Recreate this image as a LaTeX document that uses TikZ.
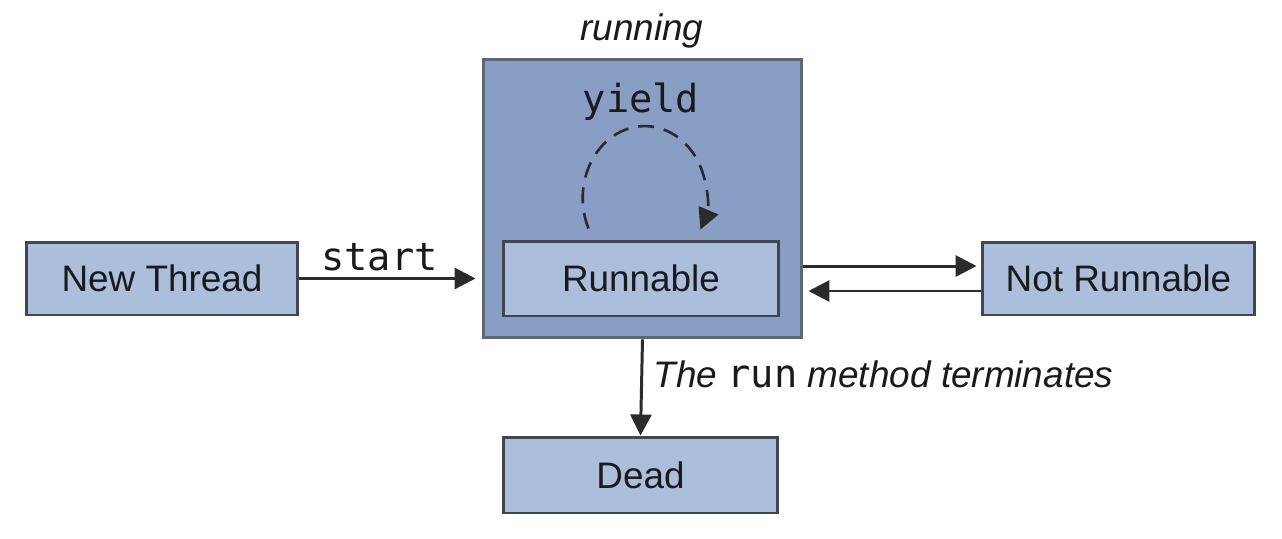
\documentclass[tikz,border=0pt]{standalone}
\usepackage{fontspec}
\setmainfont{Liberation Sans}
\setmonofont{DejaVu Sans Mono}
\usetikzlibrary{arrows.meta,calc}
\usepackage{xcolor}
\definecolor{statefill}{HTML}{ABBFDC}
\definecolor{runfill}{HTML}{899EC4}
\definecolor{stateline}{HTML}{41464F}
\definecolor{runline}{HTML}{5E6573}
\definecolor{flowline}{HTML}{2B2B2B}
\definecolor{txt}{HTML}{1A1A1A}

\begin{document}
\begin{tikzpicture}[x=0.02cm, y=-0.02cm,
    state/.style={rectangle, draw=stateline, line width=1.7pt, fill=statefill, minimum width=5.5cm, minimum height=1.48cm, inner sep=0pt, text=txt, font=\fontsize{21}{25}\selectfont},
    flow/.style={-{Triangle[length=0.42cm, width=0.42cm]}, line width=1.7pt, draw=flowline},
    lbl/.style={text=txt, font=\fontsize{21}{25}\selectfont},
    code/.style={text=txt, font=\ttfamily\fontsize{22}{26}\selectfont}]
    \useasboundingbox[fill=white] (0,0) rectangle (1282,538);

    % Running container
    \node[rectangle, draw=runline, line width=1.7pt, fill=runfill, minimum width=6.38cm, minimum height=5.58cm] (running) at (642.5,198.5) {};
    \node[lbl, anchor=base] (runlbl) at (642,40) {\itshape running};

    % States
    \node[state, minimum width=5.44cm, minimum height=1.46cm] (newthread) at (162,278.5) {New Thread};
    \node[state, minimum width=5.52cm, minimum height=1.5cm] (runnable) at (641,278.5) {Runnable};
    \node[state, minimum width=5.46cm, minimum height=1.46cm] (notrunnable) at (1118.5,278.5) {Not Runnable};
    \node[state, minimum width=5.5cm, minimum height=1.52cm] (dead) at (640.5,475) {Dead};

    % Yield loop
    \node[code, anchor=base] (yieldlbl) at (641,112) {yield};
    \draw[flow, line width=1.5pt, dash pattern=on 0.32cm off 0.2cm] ($(runnable.north)+(-1.05cm,0.22cm)$) arc[x radius=1.24cm, y radius=1.44cm, start angle=205, end angle=-26];

    % Transitions
    \draw[flow, shorten >=0.12cm] (newthread.east) -- node[code, pos=0.44, above] {start} (newthread.east -| running.west);
    \draw[flow, shorten >=0.08cm] ($(notrunnable.west -| running.east)+(0,0.25cm)$) -- ($(notrunnable.west)+(0,0.25cm)$);
    \draw[flow, shorten >=0.1cm] ($(notrunnable.west)+(0,-0.25cm)$) -- ($(notrunnable.west -| running.east)+(0,-0.25cm)$);
    \draw[flow] (running.south) -- node[lbl, anchor=base west, xshift=0.1cm] {\itshape The {\upshape\ttfamily\fontsize{22}{26}\selectfont run} method terminates} (dead.north);
\end{tikzpicture}
\end{document}
